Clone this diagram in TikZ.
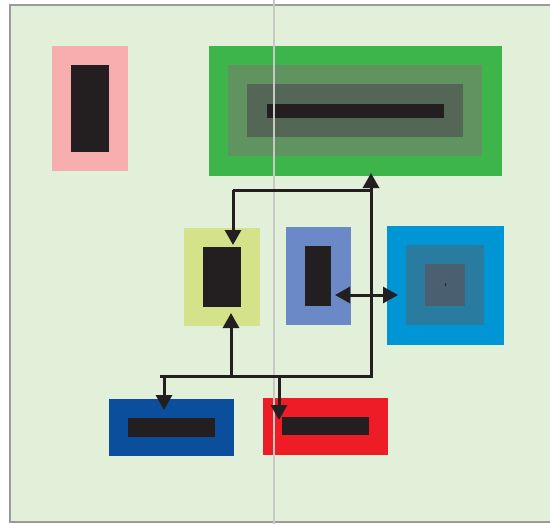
\documentclass[tikz,border=0pt]{standalone}
\usetikzlibrary{arrows.meta}

\definecolor{bgGreen}{HTML}{E2EFD9}
\definecolor{frameGray}{HTML}{9A9A9A}
\definecolor{guideGray}{HTML}{C6CAC2}
\definecolor{barBlack}{HTML}{231F20}
\definecolor{pinkBox}{HTML}{F8ADAF}
\definecolor{greenBox}{HTML}{3DB54A}
\definecolor{midGreen}{HTML}{5F9460}
\definecolor{darkGreen}{HTML}{546656}
\definecolor{limeBox}{HTML}{D4E38A}
\definecolor{lavBox}{HTML}{6C89C7}
\definecolor{skyBox}{HTML}{0096D6}
\definecolor{tealBox}{HTML}{2A7BA0}
\definecolor{slateBox}{HTML}{4A6070}
\definecolor{navyBox}{HTML}{0B4F9C}
\definecolor{redBox}{HTML}{EE1C25}

\begin{document}
\begin{tikzpicture}[
    x=0.5mm, y=-0.5mm,
    block/.style={draw=none, rectangle, inner sep=0pt, outer sep=0pt},
    link/.style={draw=barBlack, line width=1.5mm},
    arr/.style={link, -{Triangle[width=8mm, length=7.5mm]}},
    dblarr/.style={link, {Triangle[width=8mm, length=7.5mm]}-{Triangle[width=8mm, length=7.5mm]}}
]

\useasboundingbox (0,0) rectangle (550,524);
\clip (0,0) rectangle (550,524);

% Frame
\draw[fill=bgGreen, draw=frameGray, line width=1mm] (10,5) rectangle (560,522);

% -------------------------
% Boxes
% -------------------------

% 1. Pink (top left)
\node[block, fill=pinkBox, minimum width=38mm, minimum height=62.5mm] (pink) at (90,108.5) {};
\node[block, fill=barBlack, minimum width=19mm, minimum height=43.5mm] (pinkBar) at (90,108.5) {};

% 2. Green (top right)
\node[block, fill=greenBox, minimum width=146.5mm, minimum height=65mm] (green) at (355.5,111) {};
\node[block, fill=midGreen, minimum width=127mm, minimum height=45.5mm] (greenMid) at (355,110.5) {};
\node[block, fill=darkGreen, minimum width=108mm, minimum height=26.5mm] (greenIn) at (355,110.5) {};
\node[block, fill=barBlack, minimum width=88.5mm, minimum height=7mm] (greenBar) at (355.5,111) {};

% 3. Lime (middle left)
\node[block, fill=limeBox, minimum width=38mm, minimum height=49mm] (lime) at (222,277) {};
\node[block, fill=barBlack, minimum width=19mm, minimum height=30mm] (limeBar) at (222,277) {};

% 4. Lavender (middle)
\node[block, fill=lavBox, minimum width=32.5mm, minimum height=49mm] (lav) at (318.5,276) {};
\node[block, fill=barBlack, minimum width=13mm, minimum height=30mm] (lavBar) at (318,276) {};

% 5. Sky blue (middle right)
\node[block, fill=skyBox, minimum width=58.5mm, minimum height=59.5mm] (sky) at (445.5,285.5) {};
\node[block, fill=tealBox, minimum width=39mm, minimum height=40mm] (skyMid) at (445,285) {};
\node[block, fill=slateBox, minimum width=20mm, minimum height=21mm] (skyIn) at (445,285) {};
\node[block, fill=barBlack, minimum width=0.4mm, minimum height=1.5mm] (skyDot) at (445.5,284.5) {};

% 6. Navy (bottom left)
\node[block, fill=navyBox, minimum width=62.5mm, minimum height=28.5mm] (navy) at (171.5,427.5) {};
\node[block, fill=barBlack, minimum width=43.5mm, minimum height=9.5mm] (navyBar) at (171.5,427.5) {};

% 7. Red (bottom right)
\node[block, fill=redBox, minimum width=62.5mm, minimum height=28.5mm] (red) at (325.5,426.5) {};
\node[block, fill=barBlack, minimum width=43.5mm, minimum height=9mm] (redBar) at (325.5,426) {};

% Guide line
\draw[guideGray, line width=0.9mm] (274,0) -- (274,524);

% -------------------------
% Connectors
% -------------------------
\coordinate (busL) at (160,376);
\coordinate (busR) at (373,376);
\coordinate (jR) at (371,376);
\coordinate (jT) at (371,190);
\coordinate (jY) at (233,190);
\coordinate (jB) at (231,376);
\coordinate (jD) at (164,376);
\coordinate (jE) at (279,376);
\coordinate (midL) at (lav.east |- 0,295);
\coordinate (midR) at (sky.west |- 0,295);

% bus lines
\draw[link] (busL) -- (busR);
\draw[link] (jY) -- (jT);

% green <- bus
\draw[arr, shorten >=-1.5mm] (jR) -- (jR |- green.south);

% top branch -> lime
\draw[arr, shorten >=-8.5mm] (jY) -- (jY |- lime.north);

% bus -> lime
\draw[arr, shorten >=-6.5mm] (jB) -- (jB |- lime.south);

% bus -> navy
\draw[arr, shorten >=-5.5mm] (jD) -- (jD |- navy.north);

% bus -> red
\draw[arr, shorten >=-11mm] (jE) -- (jE |- red.north);

% lavender <-> sky
\draw[dblarr, shorten <=-8mm, shorten >=-5.5mm] (midL) -- (midR);

\end{tikzpicture}
\end{document}
